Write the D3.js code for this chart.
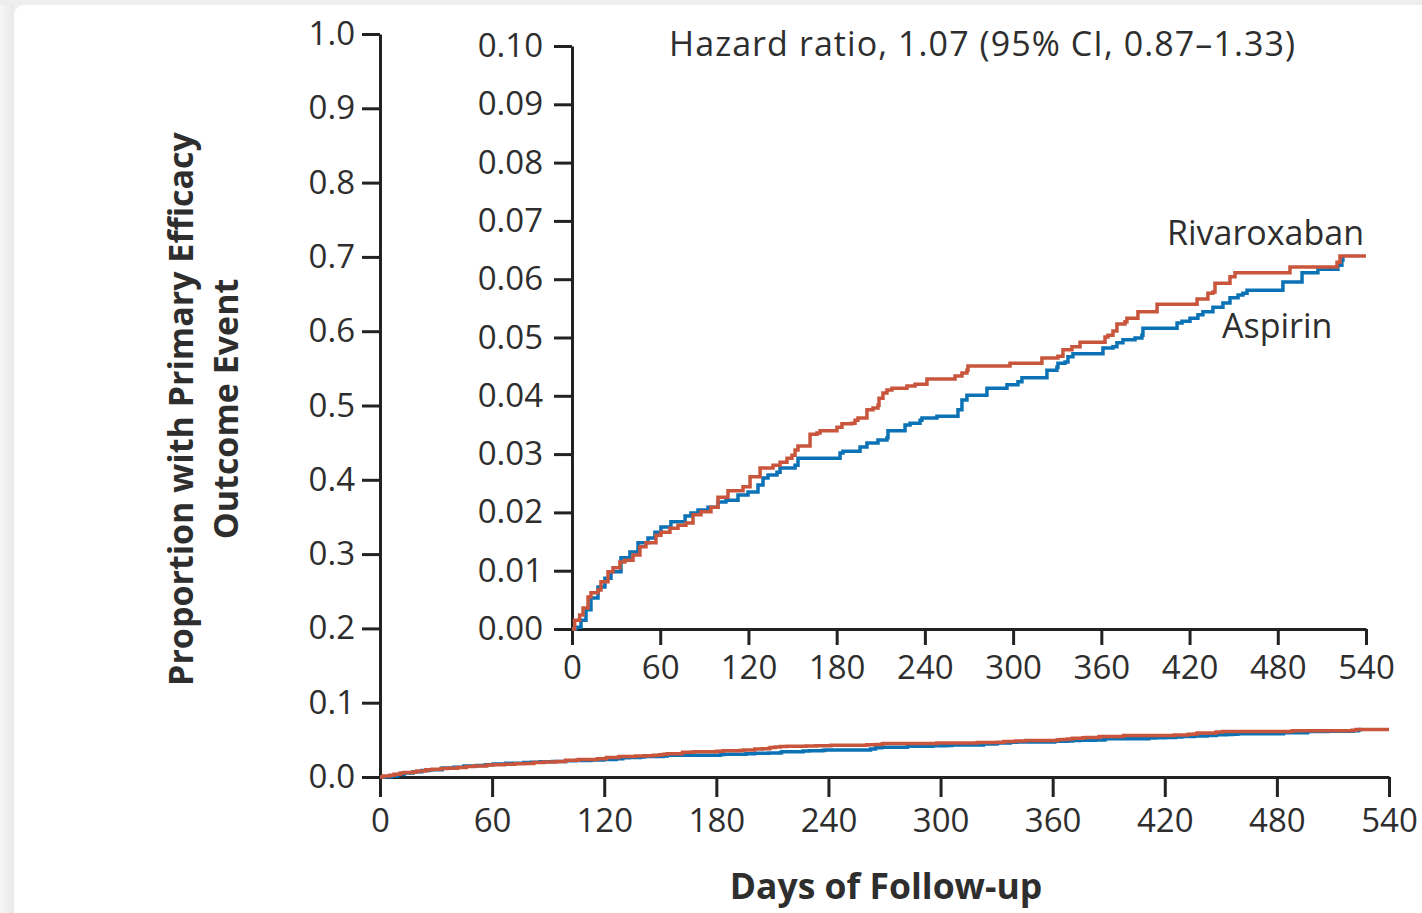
<!DOCTYPE html>
<html>
<head>
<meta charset="utf-8">
<script src="https://cdn.jsdelivr.net/npm/d3@7"></script>
<style>
  html, body { margin: 0; padding: 0; background: #efefef; }
  body { width: 1422px; height: 913px; overflow: hidden; }
  svg { display: block; }
  text { font-family: 'Open Sans', 'Noto Sans', sans-serif; fill: #2e2e2e; }
  .axis path, .axis line { stroke: #222; stroke-width: 3px; }
  .axis text { font-size: 33px; fill: #2e2e2e; }
  .title { font-weight: 700; }
  .label { font-size: 34px; }
</style>
</head>
<body>
<svg id="chart" width="1422" height="913"></svg>
<script>
// x ticks (days of follow-up)
const dayTicks = [0, 60, 120, 180, 240, 300, 360, 420, 480, 540];
const outerYTicks = [0, 0.1, 0.2, 0.3, 0.4, 0.5, 0.6, 0.7, 0.8, 0.9, 1.0];
const insetYTicks = [0, 0.01, 0.02, 0.03, 0.04, 0.05, 0.06, 0.07, 0.08, 0.09, 0.10];

const hazardText = 'Hazard ratio, 1.07 (95% CI, 0.87\u20131.33)';
const seriesNames = ['Rivaroxaban', 'Aspirin'];

// step points: [day, cumulative proportion]
const rivaroxaban = [
  [0, 0], [1.8, 0.0015], [5.2, 0.0024], [7.5, 0.0036], [10.9, 0.0055], [12.9, 0.0062],
  [17.7, 0.0067], [19.7, 0.0081], [24.5, 0.0098], [27.9, 0.0105], [32.6, 0.0115],
  [36.0, 0.0118], [41.5, 0.0127], [46.2, 0.0141], [50.3, 0.0148], [57.1, 0.0161],
  [60.5, 0.0166], [66.6, 0.0173], [72.1, 0.0178], [77.5, 0.0182], [82.3, 0.0196],
  [87.7, 0.0201], [94.5, 0.0209], [99.3, 0.0226], [106.1, 0.0237], [116.3, 0.0244],
  [121.1, 0.0261], [127.9, 0.0276], [136.7, 0.0281], [141.5, 0.0286], [146.2, 0.0293],
  [149.6, 0.0298], [151.7, 0.0307], [153.7, 0.0314], [161.9, 0.0334], [166.6, 0.0336],
  [168.7, 0.034], [180.2, 0.0346], [183.6, 0.0352], [190.4, 0.0353], [192.5, 0.0358],
  [194.5, 0.0362], [200.6, 0.0376], [204.7, 0.0379], [208.1, 0.0384], [208.8, 0.0396],
  [211.5, 0.0405], [214.2, 0.041], [217.6, 0.0413], [227.8, 0.0417], [233.3, 0.042],
  [241.4, 0.0429], [260.5, 0.0434], [265.2, 0.0439], [268.6, 0.0444], [269.3, 0.0451],
  [297.9, 0.0456], [319.6, 0.0465], [330.5, 0.0468], [333.9, 0.0479], [340.0, 0.0484],
  [345.5, 0.0492], [362.5, 0.0501], [364.5, 0.0504], [367.9, 0.0511], [370.6, 0.0523],
  [376.1, 0.0527], [377.4, 0.0533], [384.9, 0.0544], [397.9, 0.0557], [425.1, 0.0566],
  [432.5, 0.0576], [435.9, 0.0578], [437.3, 0.0593], [447.5, 0.0604], [450.9, 0.0611],
  [488.3, 0.0621], [520.3, 0.0629], [522.3, 0.064], [540, 0.064],
];

const aspirin = [
  [0, 0], [2.7, 0.0003], [6.1, 0.0015], [9.5, 0.0033], [12.9, 0.0053], [17.7, 0.0072],
  [22.4, 0.0087], [26.5, 0.0098], [33.3, 0.0122], [39.4, 0.0132], [44.9, 0.0148],
  [51.7, 0.0156], [56.4, 0.0166], [60.5, 0.0175], [67.3, 0.0184], [76.9, 0.0194],
  [80.9, 0.0199], [85.7, 0.0204], [92.5, 0.0209], [99.3, 0.0218], [104.7, 0.0221],
  [112.9, 0.023], [119.7, 0.0235], [126.5, 0.0247], [129.9, 0.0259], [133.3, 0.0264],
  [139.4, 0.0269], [141.5, 0.0276], [151.7, 0.0281], [153.7, 0.0293], [182.3, 0.0302],
  [184.3, 0.0305], [195.9, 0.0312], [200.6, 0.0319], [208.1, 0.0324], [214.2, 0.0328],
  [214.9, 0.034], [226.5, 0.035], [229.9, 0.0353], [236.7, 0.0358], [238.0, 0.0362],
  [248.2, 0.0365], [262.5, 0.0376], [265.2, 0.0393], [268.6, 0.0401], [282.2, 0.0413],
  [295.8, 0.0419], [303.3, 0.0424], [306.0, 0.0431], [323.0, 0.0444], [329.8, 0.0449],
  [330.5, 0.0456], [335.3, 0.0458], [337.3, 0.0467], [340.7, 0.0472], [361.1, 0.0482],
  [367.9, 0.0484], [370.6, 0.0491], [374.7, 0.0496], [382.9, 0.0499], [387.6, 0.0504],
  [388.3, 0.0516], [411.5, 0.0525], [414.9, 0.0528], [420.3, 0.0533], [425.7, 0.0539],
  [429.1, 0.0544], [435.9, 0.0552], [442.7, 0.0559], [447.5, 0.0568], [453.0, 0.0573],
  [456.3, 0.0576], [459.1, 0.0581], [483.5, 0.0595], [496.5, 0.0611], [507.3, 0.0617],
  [520.9, 0.0624], [523.6, 0.0633], [524.3, 0.0638], [525, 0.0638],
];

const colors = { Rivaroxaban: '#c9553c', Aspirin: '#0b72b6' };

const svg = d3.select('#chart');

function drawBackground() {
  const defs = svg.append('defs');
  const grad = defs.append('linearGradient').attr('id', 'edge');
  grad.append('stop').attr('offset', '0%').attr('stop-color', '#f6f6f6');
  grad.append('stop').attr('offset', '100%').attr('stop-color', '#e9e9e9');

  svg.append('rect').attr('x', 0).attr('y', 0).attr('width', 14).attr('height', 913).attr('fill', 'url(#edge)');
  svg.append('rect').attr('x', 0).attr('y', 0).attr('width', 1422).attr('height', 5).attr('fill', '#eeeeee');
  svg.append('rect').attr('x', 14).attr('y', 5).attr('width', 1430).attr('height', 930)
    .attr('rx', 10).attr('fill', '#ffffff');
}

function drawCurves(g, xScale, yScale, width) {
  const line = d3.line()
    .curve(d3.curveStepAfter)
    .x((d) => xScale(d[0]))
    .y((d) => yScale(d[1]));

  [['Aspirin', aspirin], ['Rivaroxaban', rivaroxaban]].forEach(([name, data]) => {
    g.append('path')
      .datum(data)
      .attr('fill', 'none')
      .attr('stroke', colors[name])
      .attr('stroke-width', width)
      .attr('stroke-linejoin', 'miter')
      .attr('d', line);
  });
}

function setupOuter() {
  const xScale = d3.scaleLinear().domain([0, 540]).range([380, 1389]);
  const yScale = d3.scaleLinear().domain([0, 1]).range([777, 34]);

  svg.append('g')
    .attr('class', 'axis')
    .attr('transform', 'translate(380,0)')
    .call(d3.axisLeft(yScale).tickValues(outerYTicks).tickFormat(d3.format('.1f'))
      .tickSize(18).tickSizeOuter(0).tickPadding(7));

  svg.append('g')
    .attr('class', 'axis')
    .attr('transform', 'translate(0,777)')
    .call(d3.axisBottom(xScale).tickValues(dayTicks).tickFormat(d3.format('d'))
      .tickSize(20).tickSizeOuter(0).tickPadding(12));

  drawCurves(svg.append('g'), xScale, yScale, 3.5);

  svg.append('text')
    .attr('class', 'title')
    .attr('x', 886)
    .attr('y', 899)
    .attr('text-anchor', 'middle')
    .style('font-size', '35.5px')
    .text('Days of Follow-up');

  const yTitle = svg.append('text')
    .attr('class', 'title')
    .attr('transform', 'translate(193,409) rotate(-90)')
    .attr('text-anchor', 'middle')
    .style('font-size', '34px');
  yTitle.append('tspan').attr('x', 0).attr('y', 0).text('Proportion with Primary Efficacy');
  yTitle.append('tspan').attr('x', 0).attr('y', 45).text('Outcome Event');
}

function setupInset() {
  const xScale = d3.scaleLinear().domain([0, 540]).range([572, 1366]);
  const yScale = d3.scaleLinear().domain([0, 0.1]).range([629, 46]);

  svg.append('g')
    .attr('class', 'axis')
    .attr('transform', 'translate(572,0)')
    .call(d3.axisLeft(yScale).tickValues(insetYTicks).tickFormat(d3.format('.2f'))
      .tickSize(18).tickSizeOuter(0).tickPadding(11));

  svg.append('g')
    .attr('class', 'axis')
    .attr('transform', 'translate(0,629)')
    .call(d3.axisBottom(xScale).tickValues(dayTicks).tickFormat(d3.format('d'))
      .tickSize(16).tickSizeOuter(0).tickPadding(11));

  const g = svg.append('g');
  g.append('rect').attr('x', 575).attr('y', 40).attr('width', 800).attr('height', 586).attr('fill', '#fff');
  drawCurves(g, xScale, yScale, 3.5);

  svg.append('text')
    .attr('class', 'label')
    .attr('x', 982)
    .attr('y', 56)
    .attr('text-anchor', 'middle')
    .attr('textLength', 626)
    .text(hazardText);

  svg.append('text')
    .attr('class', 'label')
    .attr('x', 1364)
    .attr('y', 245)
    .attr('text-anchor', 'end')
    .text(seriesNames[0]);

  svg.append('text')
    .attr('class', 'label')
    .attr('x', 1222)
    .attr('y', 338)
    .attr('text-anchor', 'start')
    .text(seriesNames[1]);
}

drawBackground();
setupOuter();
setupInset();
</script>
</body>
</html>
